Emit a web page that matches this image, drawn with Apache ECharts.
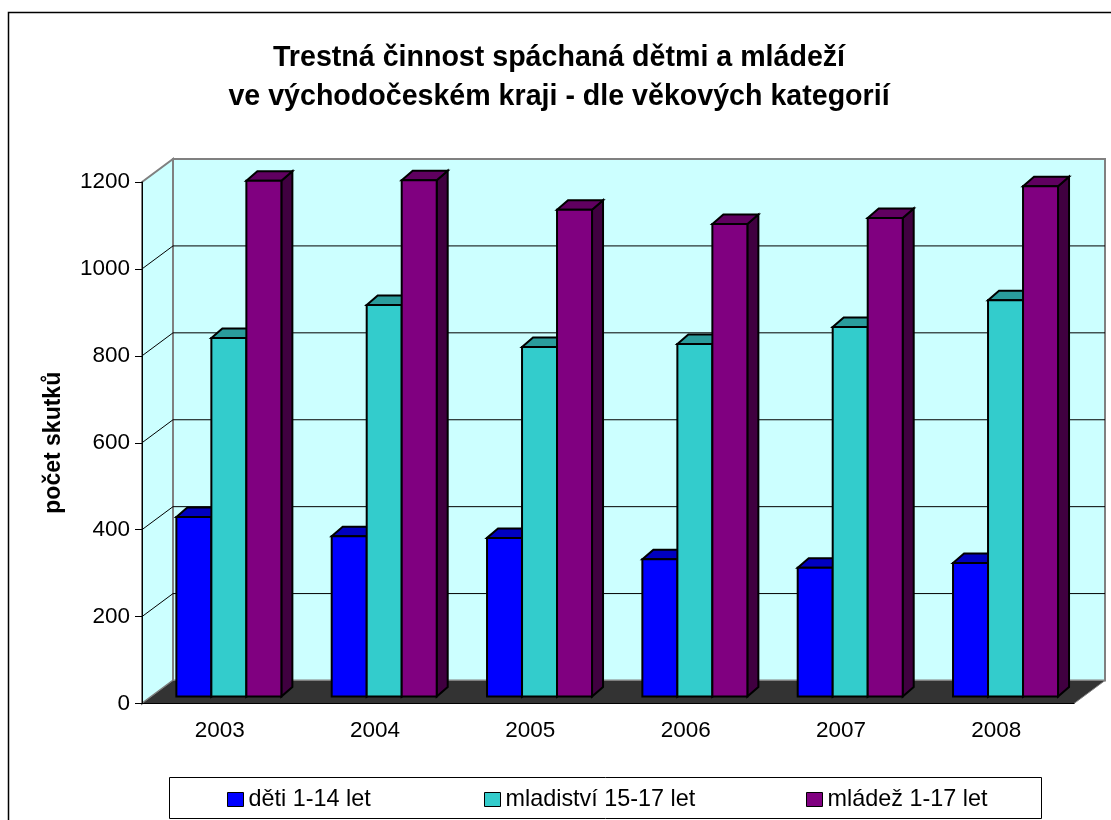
<!DOCTYPE html>
<html>
<head>
<meta charset="utf-8">
<title>Trestná činnost</title>
<script src="https://cdn.jsdelivr.net/npm/echarts@6/dist/echarts.min.js"></script>
<style>
html,body{margin:0;padding:0;background:#fff;}
#chart{width:1111px;height:820px;}
</style>
</head>
<body>
<div id="chart"></div>
<script>
var years = ['2003','2004','2005','2006','2007','2008'];
var deti = [413,369,365,316,296,307];
var mladistvi = [825,901,804,811,850,912];
var mladez = [1187,1188,1120,1087,1101,1174];
var yTicks = [200,400,600,800,1000];

var fontName = '"Liberation Sans", Arial, sans-serif';
// pseudo 3D depth in pixels, the same as the excel chart
var wallDx = 31, wallDy = 23;
var barShiftX = 9.2, barShiftY = 7;
var barW = 35, sideDx = 11, sideDy = 9.5;

function renderWalls(params, api){
    var cs = params.coordSys;
    var x0 = cs.x, x1 = cs.x + cs.width;
    var y0 = api.coord([0,0])[1], yTop = api.coord([0,1200])[1];
    var wall = {fill:'#CCFFFF', stroke:'#808080', lineWidth:2};
    return {
        type:'group',
        children:[
            {type:'polygon', shape:{points:[[x0+wallDx,yTop-wallDy],[x1+wallDx,yTop-wallDy],[x1+wallDx,y0-wallDy],[x0+wallDx,y0-wallDy]]}, style:wall},
            {type:'polygon', shape:{points:[[x0,yTop],[x0+wallDx,yTop-wallDy],[x0+wallDx,y0-wallDy],[x0,y0]]}, style:wall},
            {type:'polygon', shape:{points:[[x0,y0],[x0+wallDx,y0-wallDy],[x1+wallDx,y0-wallDy],[x1,y0]]}, style:{fill:'#333333', stroke:'#808080', lineWidth:1}}
        ]
    };
}

function renderGridLine(params, api){
    var cs = params.coordSys;
    var x0 = cs.x, x1 = cs.x + cs.width;
    var y = api.coord([0,api.value(1)])[1];
    return {
        type:'polyline',
        shape:{points:[[x0,y],[x0+wallDx,y-wallDy],[x1+wallDx,y-wallDy]]},
        style:{fill:null, stroke:'#000', lineWidth:1}
    };
}

function makeBarRenderer(slot, sideColor, topColor){
    return function(params, api){
        var idx = api.value(0);
        var c = api.coord([idx,0]);
        var t = api.coord([idx,api.value(1)]);
        var left = c[0] + barShiftX + (slot-1.5)*barW;
        var right = left + barW;
        var base = c[1] - barShiftY;
        var top = t[1] - barShiftY;
        var line = {stroke:'#000', lineWidth:2, lineJoin:'miter'};
        return {
            type:'group',
            children:[
                {type:'polygon', shape:{points:[[right,top],[right+sideDx,top-sideDy],[right+sideDx,base-sideDy],[right,base]]}, style:Object.assign({fill:sideColor},line)},
                {type:'polygon', shape:{points:[[left,top],[left+sideDx,top-sideDy],[right+sideDx,top-sideDy],[right,top]]}, style:Object.assign({fill:topColor},line)},
                {type:'rect', shape:{x:left,y:top,width:barW,height:base-top}, style:Object.assign({fill:api.visual('color')},line)}
            ]
        };
    };
}

function toPairs(arr){
    return arr.map(function(v,i){ return [i,v]; });
}

function legendAt(name, left){
    return {
        data:[name], left:left, top:783, icon:'rect',
        itemWidth:16, itemHeight:14, itemGap:6,
        selectedMode:false,
        itemStyle:{borderColor:'#000', borderWidth:1},
        textStyle:{fontFamily:fontName, fontSize:23.4, color:'#000'}
    };
}

var chart = echarts.init(document.getElementById('chart'));
chart.setOption({
    animation:false,
    backgroundColor:'#fff',
    title:{
        text:'Trestná činnost spáchaná dětmi a mládeží\nve východočeském kraji - dle věkových kategorií',
        left:554, top:34, textAlign:'center',
        textStyle:{fontFamily:fontName, fontSize:28.6, fontWeight:'bold', color:'#000', lineHeight:39}
    },
    legend:[legendAt('děti 1-14 let',222), legendAt('mladiství 15-17 let',479), legendAt('mládež 1-17 let',801)],
    grid:{left:142, top:182, width:932, height:521.5},
    xAxis:{
        type:'category', data:years, z:5,
        axisLine:{lineStyle:{color:'#000', width:1}},
        axisTick:{length:8, lineStyle:{color:'#000'}},
        axisLabel:{fontFamily:fontName, fontSize:22.5, color:'#000', margin:16}
    },
    yAxis:{
        type:'value', min:0, max:1200, interval:200, z:5,
        name:'počet skutků', nameLocation:'middle', nameGap:77, nameRotate:90,
        nameTextStyle:{fontFamily:fontName, fontSize:23, fontWeight:'bold', color:'#000'},
        axisLine:{show:true, lineStyle:{color:'#000', width:1}},
        axisTick:{show:true, length:7, lineStyle:{color:'#000'}},
        axisLabel:{fontFamily:fontName, fontSize:22.5, color:'#000', margin:12, formatter:function(v){ return String(v); }},
        splitLine:{show:false}
    },
    series:[
        {name:'walls', type:'custom', z:1, silent:true, renderItem:renderWalls, data:[[0,0]], encode:{x:0,y:1}},
        {name:'gridlines', type:'custom', z:1.5, silent:true, renderItem:renderGridLine, data:toPairs(yTicks).map(function(p){return [0,p[1]];}), encode:{x:0,y:1}},
        {name:'děti 1-14 let', type:'custom', z:2, renderItem:makeBarRenderer(0,'#000080','#0000C0'), itemStyle:{color:'#0000FF'}, data:toPairs(deti), encode:{x:0,y:1}},
        {name:'mladiství 15-17 let', type:'custom', z:2, renderItem:makeBarRenderer(1,'#1F7F7F','#2A9C9C'), itemStyle:{color:'#33CCCC'}, data:toPairs(mladistvi), encode:{x:0,y:1}},
        {name:'mládež 1-17 let', type:'custom', z:2, renderItem:makeBarRenderer(2,'#400040','#600060'), itemStyle:{color:'#800080'}, data:toPairs(mladez), encode:{x:0,y:1}}
    ],
    graphic:[
        {type:'polyline', silent:true, shape:{points:[[8.5,820],[8.5,12.5],[1111,12.5]]}, style:{fill:null, stroke:'#000', lineWidth:1.5}},
        {type:'rect', silent:true, z:-1, shape:{x:169.5,y:777.5,width:872,height:41}, style:{fill:'#fff', stroke:'#000', lineWidth:1}}
    ]
});
</script>
</body>
</html>
